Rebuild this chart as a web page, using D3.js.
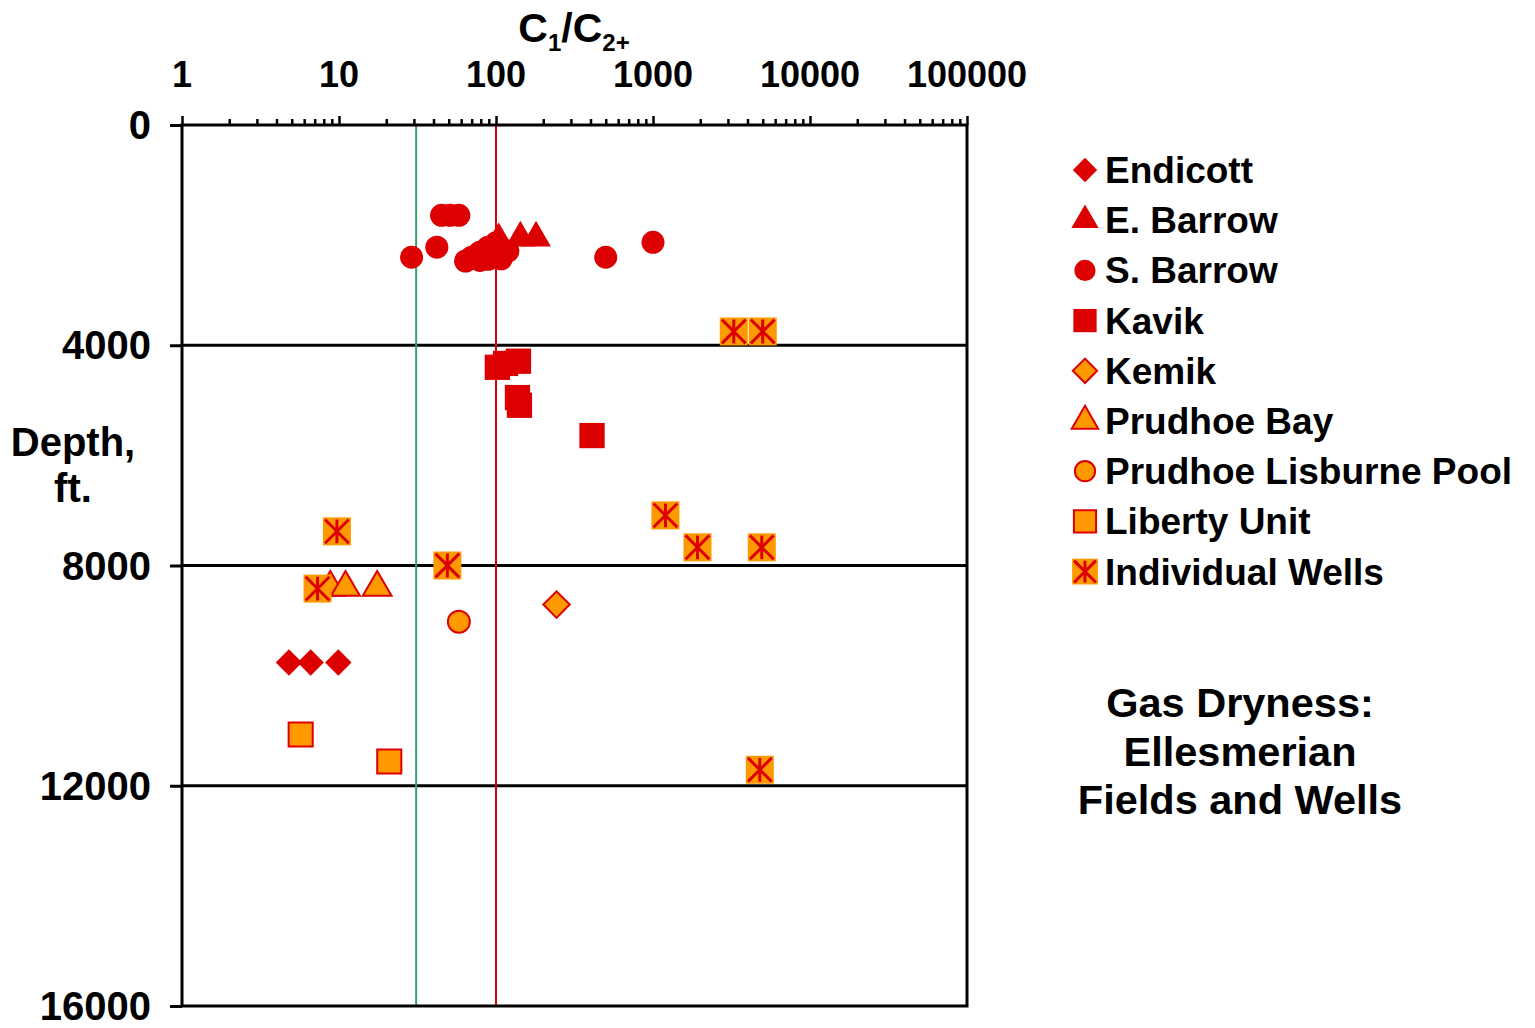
<!DOCTYPE html>
<html>
<head>
<meta charset="utf-8">
<script src="https://cdn.jsdelivr.net/npm/d3@7"></script>
<style>
  html, body { margin: 0; padding: 0; background: #fff; }
  svg { display: block; }
  text { font-family: "Liberation Sans", Arial, Helvetica, sans-serif; font-weight: bold; fill: #000; }
</style>
</head>
<body>
<svg id="chart" width="1535" height="1028"></svg>
<script>
// C1/C2+ gas dryness ratio versus depth (ft) for Ellesmerian fields and wells
const xTickValues = [1, 10, 100, 1000, 10000, 100000];
const xTickLabels = ["1", "10", "100", "1000", "10000", "100000"];
const yTickValues = [0, 4000, 8000, 12000, 16000];
const yTickLabels = ["0", "4000", "8000", "12000", "16000"];
const gridDepths = [4000, 8000, 12000];
const refRatios = [31, 100];

const seriesNames = ["Endicott", "E. Barrow", "S. Barrow", "Kavik", "Kemik",
  "Prudhoe Bay", "Prudhoe Lisburne Pool", "Liberty Unit", "Individual Wells"];

const endicottRatio = [4.8, 6.6, 9.9];
const endicottDepth = [9760, 9760, 9760];
const eBarrowRatio = [104, 143, 180];
const eBarrowDepth = [2080, 2050, 2050];
const sBarrowRatio = [45, 51, 58, 29, 42, 64, 70, 79, 79, 89, 89, 100, 100, 109, 108, 119, 95, 500, 1000];
const sBarrowDepth = [1640, 1640, 1640, 2400, 2220, 2470, 2400, 2310, 2460, 2220, 2440, 2140, 2390, 2270, 2430, 2290, 2300, 2400, 2130];
const kavikRatio = [102, 115, 139, 137, 141, 409];
const kavikDepth = [4400, 4330, 4290, 4950, 5090, 5640];
const kemikRatio = [243];
const kemikDepth = [8710];
const prudhoeBayRatio = [8.8, 11, 17.5];
const prudhoeBayDepth = [8400, 8400, 8400];
const lisburneRatio = [58];
const lisburneDepth = [9020];
const libertyRatio = [5.7, 20.9];
const libertyDepth = [11070, 11560];
const wellsRatio = [3270, 5000, 1200, 1920, 4930, 9.7, 49, 7.3, 4790];
const wellsDepth = [3750, 3750, 7090, 7670, 7670, 7380, 8000, 8420, 11710];

const RED = "#dd0000";
const ORANGE = "#ff9900";

const svg = d3.select("#chart");
const plotLeft = 182, plotRight = 967, plotTop = 125, plotBottom = 1006;

const x = d3.scaleLog().domain([1, 100000]).range([plotLeft, plotRight]);
const y = d3.scaleLinear().domain([0, 16000]).range([plotTop, plotBottom]);

// horizontal depth grid lines
svg.append("g").selectAll("line").data(gridDepths).join("line")
  .attr("x1", plotLeft).attr("x2", plotRight)
  .attr("y1", d => y(d)).attr("y2", d => y(d))
  .attr("stroke", "#000").attr("stroke-width", 3);

// dryness reference lines
svg.append("g").selectAll("line").data(refRatios).join("line")
  .attr("x1", d => x(d)).attr("x2", d => x(d))
  .attr("y1", plotTop).attr("y2", plotBottom)
  .attr("stroke", (d, i) => i === 0 ? "#3a9e6e" : "#e00000")
  .attr("stroke-width", 2);

// frame
svg.append("rect")
  .attr("x", plotLeft).attr("y", plotTop)
  .attr("width", plotRight - plotLeft).attr("height", plotBottom - plotTop)
  .attr("fill", "none").attr("stroke", "#000").attr("stroke-width", 3);

// top log axis with minor ticks
const allTicks = [];
for (let e = 0; e < 5; e++) for (let m = 1; m < 10; m++) allTicks.push(m * Math.pow(10, e));
allTicks.push(100000);
const xAxis = d3.axisTop(x).tickValues(allTicks).tickSize(6).tickFormat("");
const gx = svg.append("g").attr("transform", `translate(0,${plotTop})`).call(xAxis);
gx.select(".domain").remove();
gx.selectAll(".tick line")
  .attr("stroke", "#000").attr("stroke-width", 2.5)
  .attr("y2", d => xTickValues.includes(d) ? -9 : -6);

svg.append("g").selectAll("text").data(xTickValues).join("text")
  .attr("x", d => x(d)).attr("y", 87)
  .attr("text-anchor", "middle")
  .style("font-size", "36px")
  .text((d, i) => xTickLabels[i]);

// left depth axis
const yAxis = d3.axisLeft(y).tickValues(yTickValues).tickSize(12).tickFormat("");
const gy = svg.append("g").attr("transform", `translate(${plotLeft},0)`).call(yAxis);
gy.select(".domain").remove();
gy.selectAll(".tick line").attr("stroke", "#000").attr("stroke-width", 3);

svg.append("g").selectAll("text").data(yTickValues).join("text")
  .attr("x", 151).attr("y", d => y(d) + 14)
  .attr("text-anchor", "end")
  .style("font-size", "40px")
  .text((d, i) => yTickLabels[i]);

// axis titles
const title = svg.append("text").attr("x", 574).attr("y", 42).attr("text-anchor", "middle")
  .style("font-size", "41px");
title.append("tspan").text("C");
title.append("tspan").attr("dy", 9).style("font-size", "24px").text("1");
title.append("tspan").attr("dy", -9).text("/C");
title.append("tspan").attr("dy", 9).style("font-size", "24px").text("2+");

svg.append("text").attr("x", 73).attr("y", 456).attr("text-anchor", "middle")
  .style("font-size", "40px").text("Depth,");
svg.append("text").attr("x", 73).attr("y", 502).attr("text-anchor", "middle")
  .style("font-size", "40px").text("ft.");

// marker drawing helpers
function drawMarker(g, kind, cx, cy, scale) {
  const s = scale || 1;
  if (kind === "Endicott") {
    g.append("path").attr("d", d3.symbol(d3.symbolSquare, 350 * s * s)())
      .attr("transform", `translate(${cx},${cy}) rotate(45)`)
      .attr("fill", RED);
  } else if (kind === "E. Barrow") {
    g.append("path").attr("d", d3.symbol(d3.symbolTriangle, 380 * s * s)())
      .attr("transform", `translate(${cx},${cy})`)
      .attr("fill", RED);
  } else if (kind === "S. Barrow") {
    g.append("circle").attr("cx", cx).attr("cy", cy).attr("r", 11.5 * s)
      .attr("fill", RED);
  } else if (kind === "Kavik") {
    g.append("path").attr("d", d3.symbol(d3.symbolSquare, 640 * s * s)())
      .attr("transform", `translate(${cx},${cy})`)
      .attr("fill", RED);
  } else if (kind === "Kemik") {
    g.append("path").attr("d", d3.symbol(d3.symbolSquare, 350 * s * s)())
      .attr("transform", `translate(${cx},${cy}) rotate(45)`)
      .attr("fill", ORANGE).attr("stroke", RED).attr("stroke-width", 2);
  } else if (kind === "Prudhoe Bay") {
    g.append("path").attr("d", d3.symbol(d3.symbolTriangle, 360 * s * s)())
      .attr("transform", `translate(${cx},${cy})`)
      .attr("fill", ORANGE).attr("stroke", RED).attr("stroke-width", 2);
  } else if (kind === "Prudhoe Lisburne Pool") {
    g.append("circle").attr("cx", cx).attr("cy", cy).attr("r", 11 * s)
      .attr("fill", ORANGE).attr("stroke", RED).attr("stroke-width", 2);
  } else if (kind === "Liberty Unit") {
    g.append("path").attr("d", d3.symbol(d3.symbolSquare, 580 * s * s)())
      .attr("transform", `translate(${cx},${cy})`)
      .attr("fill", ORANGE).attr("stroke", RED).attr("stroke-width", 2);
  } else if (kind === "Individual Wells") {
    const h = 14 * s;
    g.append("rect").attr("x", cx - h).attr("y", cy - h)
      .attr("width", 2 * h).attr("height", 2 * h).attr("fill", ORANGE);
    const k = h * 0.85;
    g.append("path")
      .attr("d", `M${cx - k},${cy - k}L${cx + k},${cy + k}M${cx + k},${cy - k}L${cx - k},${cy + k}M${cx},${cy - k}L${cx},${cy + k}`)
      .attr("stroke", RED).attr("stroke-width", 3).attr("fill", "none");
  }
}

const seriesData = [
  ["S. Barrow", sBarrowRatio, sBarrowDepth],
  ["E. Barrow", eBarrowRatio, eBarrowDepth],
  ["Kavik", kavikRatio, kavikDepth],
  ["Endicott", endicottRatio, endicottDepth],
  ["Kemik", kemikRatio, kemikDepth],
  ["Prudhoe Lisburne Pool", lisburneRatio, lisburneDepth],
  ["Liberty Unit", libertyRatio, libertyDepth],
  ["Prudhoe Bay", prudhoeBayRatio, prudhoeBayDepth],
  ["Individual Wells", wellsRatio, wellsDepth]
];

const marks = svg.append("g");
seriesData.forEach(([name, xs, ys]) => {
  xs.forEach((v, i) => drawMarker(marks, name, x(v), y(ys[i])));
});

// legend
const legend = svg.append("g");
seriesNames.forEach((name, i) => {
  const cy = 170 + i * 50.2;
  drawMarker(legend, name, 1085, cy, 0.92);
  legend.append("text").attr("x", 1105).attr("y", cy + 13)
    .style("font-size", "37px").text(name);
});

// annotation
const note = ["Gas Dryness:", "Ellesmerian", "Fields and Wells"];
svg.append("g").selectAll("text").data(note).join("text")
  .attr("x", 1240).attr("y", (d, i) => 717 + i * 48.5)
  .attr("text-anchor", "middle")
  .style("font-size", "41.5px")
  .text(d => d);
</script>
</body>
</html>
